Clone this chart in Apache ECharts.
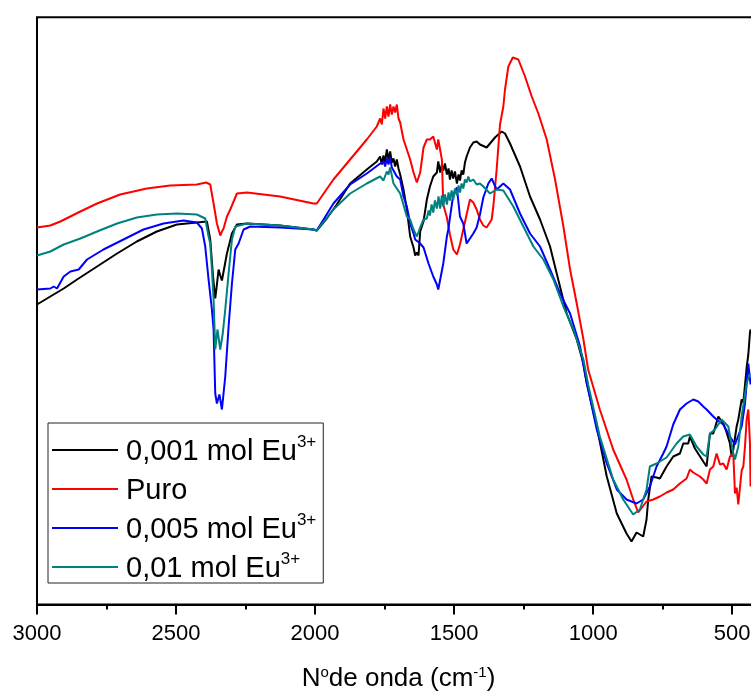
<!DOCTYPE html>
<html>
<head>
<meta charset="utf-8">
<script src="https://cdn.jsdelivr.net/npm/echarts@6/dist/echarts.min.js"></script>
<style>
  html, body { margin: 0; padding: 0; background: #ffffff; }
  #chart { width: 751px; height: 691px; }
</style>
</head>
<body>
<div id="chart"></div>
<script>
// FTIR transmittance spectra (arbitrary units) vs wavenumber (cm-1)
const seriesNames = ['0,001 mol Eu', 'Puro', '0,005 mol Eu', '0,01 mol Eu'];
const seriesSup = ['3+', '', '3+', '3+'];
const seriesColors = ['#000000', '#ff0000', '#0000ff', '#008080'];

const eu001 = [
  [3000,30.0],[2952,30.8],[2904,31.6],[2856,32.5],[2784,33.8],[2712,35.1],[2641,36.3],[2569,37.3],[2497,38.0],[2425,38.2],
  [2389,38.3],[2377,36.5],[2367,32.8],[2359,30.6],[2353,32.0],[2347,33.5],[2341,32.9],[2335,32.4],[2329,33.3],[2317,35.1],
  [2299,37.1],[2281,38.0],[2245,38.1],[2126,37.9],[2006,37.5],[1994,37.4],[1958,38.6],[1922,40.0],[1874,42.1],[1814,43.5],
  [1778,44.3],[1766,44.8],[1760,44.0],[1754,44.9],[1748,44.2],[1742,45.5],[1736,44.5],[1730,45.3],[1724,44.2],[1718,44.6],
  [1712,43.8],[1706,44.5],[1700,43.6],[1694,43.0],[1682,41.5],
  [1670,39.5],[1658,36.8],[1646,35.7],[1640,34.9],[1634,35.2],[1628,34.9],[1622,37.3],[1610,38.3],[1598,40.5],[1587,41.8],
  [1575,42.8],[1562,43.2],[1557,44.3],[1550,43.2],[1544,44.0],[1539,43.4],[1533,44.1],[1526,43.0],[1520,43.6],[1515,42.5],
  [1509,43.4],[1503,42.6],[1497,43.3],[1490,42.1],[1484,43.0],[1479,42.4],[1473,43.4],[1467,43.0],[1461,44.2],[1455,44.8],
  [1443,45.7],[1431,46.2],[1419,46.3],[1407,46.0],[1383,45.7],[1371,46.1],[1353,46.7],[1329,47.3],
  [1317,47.1],[1299,46.1],[1263,43.8],[1227,40.8],[1191,38.5],[1155,35.8],[1131,33.1],[1095,29.1],[1059,26.5],[1035,24.1],
  [1023,22.1],[987,17.8],[951,12.8],[915,9.1],[880,7.1],[862,6.3],[844,7.2],[838,7.3],[820,6.8],[808,8.5],
  [802,10.5],[790,12.8],[772,12.7],[760,12.6],[736,13.8],[712,14.8],[688,15.1],[676,16.1],[658,16.1],[652,16.8],
  [634,15.6],[628,15.5],[604,14.3],[592,13.8],[580,17.1],[568,17.1],[550,18.8],[544,18.8],[532,18.1],[520,17.2],
  [508,16.1],[502,14.8],[496,15.5],[484,17.8],[478,18.5],[466,20.5],[460,20.2],[448,23.7],[442,25.0],[436,27.2],[434,27.5]
];

const puro = [
  [3000,37.7],[2952,37.9],[2916,38.3],[2844,39.3],[2784,40.1],[2701,41.0],[2605,41.6],[2521,41.9],[2425,42.0],[2392,42.2],
  [2377,42.0],[2365,40.1],[2353,38.1],[2347,37.5],[2341,36.9],[2335,37.3],[2329,37.6],[2317,38.8],[2305,39.5],[2281,41.1],
  [2245,41.2],[2126,40.8],[2006,40.1],[1994,40.1],[1934,42.5],[1874,44.5],[1814,46.5],[1778,47.8],[1772,47.6],[1766,48.6],
  [1760,48.0],[1754,49.6],[1748,48.6],[1742,49.8],[1736,48.8],[1730,50.0],[1724,49.0],[1718,49.8],[1712,49.2],[1706,50.0],
  [1700,48.6],[1694,48.2],[1682,46.5],[1670,45.5],[1658,44.5],[1646,43.2],
  [1634,42.2],[1622,43.2],[1610,45.7],[1598,46.5],[1587,46.5],[1575,46.8],[1562,45.5],[1557,46.5],[1544,44.5],[1539,40.0],
  [1526,38.7],[1515,37.0],[1503,35.5],[1490,35.0],[1479,36.0],[1467,37.5],[1455,39.0],[1443,40.5],[1431,40.2],[1419,39.5],
  [1407,38.5],[1395,37.9],[1383,37.7],[1365,38.5],[1359,39.8],[1347,43.5],[1335,48.0],[1323,49.8],[1317,51.5],[1305,53.8],
  [1289,54.7],[1269,54.5],[1245,52.8],[1221,50.8],[1197,49.1],[1167,46.5],[1137,42.5],[1107,37.8],[1083,33.5],[1059,30.1],
  [1035,26.5],[1018,23.5],[976,19.5],[928,15.5],[880,12.5],[856,10.5],[838,9.2],[832,9.3],[808,10.3],[784,10.5],
  [760,10.8],[736,11.2],[712,11.5],[688,12.1],[664,12.6],[652,13.5],[640,13.2],[616,12.8],[604,12.5],[592,12.1],
  [580,13.5],[568,13.8],[556,15.1],[544,14.0],[532,14.1],[520,13.5],[508,14.8],[496,15.1],[490,11.1],[484,11.7],
  [478,10.0],[472,10.1],[466,13.4],[460,13.8],[454,15.8],[448,18.5],[442,19.5],[436,16.1],[434,11.8]
];

const eu005 = [
  [3000,31.5],[2952,31.6],[2940,31.8],[2928,31.6],[2904,32.8],[2880,33.3],[2850,33.5],[2820,34.5],[2761,35.5],[2689,36.5],
  [2617,37.5],[2545,38.1],[2473,38.4],[2425,38.2],[2407,37.6],[2395,35.8],[2383,32.5],[2377,31.0],[2371,29.5],[2365,27.5],
  [2359,21.1],[2353,20.1],[2344,21.0],[2335,19.5],[2323,22.8],[2311,27.8],[2299,32.1],[2287,35.5],[2275,36.1],[2257,37.5],
  [2233,37.8],[2126,37.7],[2006,37.5],[1994,37.4],[1934,40.1],[1874,42.0],[1814,43.1],[1766,44.1],[1754,44.3],[1748,43.8],
  [1742,44.6],[1736,44.0],[1730,44.7],[1724,43.7],[1718,43.9],[1706,42.8],[1694,42.5],[1682,40.8],[1670,39.8],[1658,38.1],
  [1646,37.1],[1640,36.5],[1622,36.1],[1610,35.7],[1592,34.1],
  [1575,32.8],[1562,32.0],[1557,31.5],[1550,32.5],[1539,34.1],[1526,36.8],[1521,37.5],[1503,41.0],[1490,41.7],[1485,41.8],
  [1479,38.8],[1467,38.1],[1455,36.1],[1449,36.1],[1431,37.1],[1419,37.7],[1407,39.0],[1395,40.7],[1377,42.1],[1365,42.6],
  [1347,41.5],[1323,42.1],[1299,41.5],[1263,39.1],[1227,37.1],[1191,35.8],[1155,33.5],[1119,31.1],[1083,29.1],[1047,25.8],
  [1029,23.0],[987,17.5],[951,14.1],[915,11.5],[880,10.5],[844,10.1],[820,10.5],[796,11.8],[772,13.8],[748,15.1],
  [736,15.8],[712,18.0],[688,19.5],[664,20.1],[652,20.3],[640,20.5],[622,20.3],[604,19.8],[592,19.5],[568,18.8],
  [556,18.5],[532,18.0],[508,16.8],[490,16.0],[484,15.8],[466,17.8],[454,20.1],[448,22.1],[442,24.1],[436,24.0],[434,22.0]
];

const eu01 = [
  [3000,34.9],[2952,35.3],[2904,36.0],[2844,36.6],[2784,37.3],[2712,38.1],[2641,38.7],[2569,39.0],[2497,39.1],[2425,39.0],
  [2395,38.6],[2389,38.5],[2383,36.8],[2377,36.1],[2371,33.5],[2365,30.5],[2359,25.5],[2351,27.5],[2341,25.5],[2332,27.1],
  [2323,29.5],[2311,33.1],[2299,36.5],[2287,37.8],[2245,38.1],[2126,37.9],[2006,37.5],[1994,37.4],[1934,39.5],[1874,41.1],
  [1814,42.1],[1766,42.8],[1754,42.4],[1742,43.3],[1736,43.0],[1730,43.7],[1718,42.1],[1694,41.1],[1670,38.8],[1658,38.5],
  [1646,37.5],[1634,36.8],[1622,37.7],[1610,38.5],[1598,38.6],[1592,39.4],[1587,38.9],[1581,40.0],[1575,39.2],[1569,40.4],
  [1562,39.6],[1556,40.8],[1550,39.6],[1544,40.9],[1539,39.8],[1533,41.0],[1526,40.0],[1520,41.2],[1515,40.4],[1509,41.4],
  [1503,40.5],[1497,41.6],[1490,40.9],[1484,41.9],[1479,41.2],[1473,42.1],[1467,41.6],[1461,42.5],[1455,42.2],[1449,42.8],
  [1443,42.3],[1431,42.5],[1419,42.0],[1407,42.1],
  [1395,41.8],[1371,41.1],[1347,41.5],[1323,41.4],[1287,39.8],[1251,37.8],[1215,35.8],[1179,34.5],[1143,32.5],[1107,29.8],
  [1071,27.5],[1035,24.5],[1018,22.0],[976,16.8],[928,12.5],[892,10.5],[856,9.0],[832,9.5],[808,11.5],[796,13.8],
  [772,14.1],[736,14.7],[700,16.1],[676,16.8],[652,17.0],[628,15.8],[604,15.0],[592,14.8],[580,17.1],[562,17.5],
  [538,18.5],[514,17.8],[496,15.1],[490,14.5],[478,15.8],[466,18.8],[448,22.1],[436,23.1]
];

const seriesData = [eu001, puro, eu005, eu01];

const FONT = '"Liberation Sans", Arial, Helvetica, sans-serif';

const chart = echarts.init(document.getElementById('chart'), null, { renderer: 'canvas' });

const xCommon = {
  type: 'value',
  inverse: true,
  min: 400,
  max: 3000,
  splitLine: { show: false },
  gridIndex: 0
};

chart.setOption({
  backgroundColor: '#ffffff',
  animation: false,
  grid: {
    left: 37, right: -9, top: 17.3, bottom: 86.5,
    containLabel: false,
    outerBoundsMode: 'none',
    show: true, borderColor: '#000000', borderWidth: 2, backgroundColor: 'transparent'
  },
  legend: {
    orient: 'vertical',
    left: 48,
    top: 423,
    padding: [9, 7, 0, 4],
    itemGap: 5,
    itemWidth: 66,
    itemHeight: 2,
    icon: 'rect',
    borderColor: '#222222',
    borderWidth: 1,
    backgroundColor: '#ffffff',
    data: seriesNames,
    formatter: function (name) {
      const sup = seriesSup[seriesNames.indexOf(name)];
      return sup ? '{t|' + name + '}{s|' + sup + '}' : '{t|' + name + '}';
    },
    textStyle: {
      fontFamily: FONT,
      color: '#000000',
      rich: {
        t: { fontFamily: FONT, fontSize: 29, lineHeight: 32, padding: [5, 0, 0, 3], verticalAlign: 'bottom', color: '#000000' },
        s: { fontFamily: FONT, fontSize: 17, lineHeight: 6, verticalAlign: 'top', color: '#000000' }
      }
    }
  },
  xAxis: [
    Object.assign({}, xCommon, {
      position: 'bottom',
      minInterval: 500,
      maxInterval: 500,
      name: 'N{s|o}de onda (cm{s|-1})',
      nameLocation: 'middle',
      nameGap: 61,
      nameTextStyle: {
        fontFamily: FONT, fontSize: 26, color: '#000000',
        rich: { s: { fontFamily: FONT, fontSize: 15, lineHeight: 8, verticalAlign: 'top', color: '#000000' } }
      },
      axisLine: { show: true, lineStyle: { color: '#000000', width: 2 } },
      axisTick: { show: true, inside: false, length: 10, lineStyle: { color: '#000000', width: 2 } },
      axisLabel: {
        show: true, margin: 18, fontFamily: FONT, fontSize: 22, color: '#000000',
        formatter: function (v) { return v % 500 === 0 ? String(v) : ''; }
      }
    }),
    Object.assign({}, xCommon, {
      position: 'bottom',
      minInterval: 250,
      maxInterval: 250,
      axisLine: { show: false },
      axisTick: { show: true, inside: false, length: 5, lineStyle: { color: '#000000', width: 2 } },
      axisLabel: { show: false }
    })
  ],
  yAxis: {
    type: 'value',
    min: 0,
    max: 58.72,
    axisLine: { show: false },
    axisTick: { show: false },
    axisLabel: { show: false },
    splitLine: { show: false }
  },
  series: seriesNames.map(function (name, i) {
    return {
      name: name,
      type: 'line',
      xAxisIndex: 0,
      data: seriesData[i],
      showSymbol: false,
      symbol: 'none',
      smooth: false,
      clip: true,
      color: seriesColors[i],
      lineStyle: { color: seriesColors[i], width: 2 }
    };
  })
});
</script>
</body>
</html>
